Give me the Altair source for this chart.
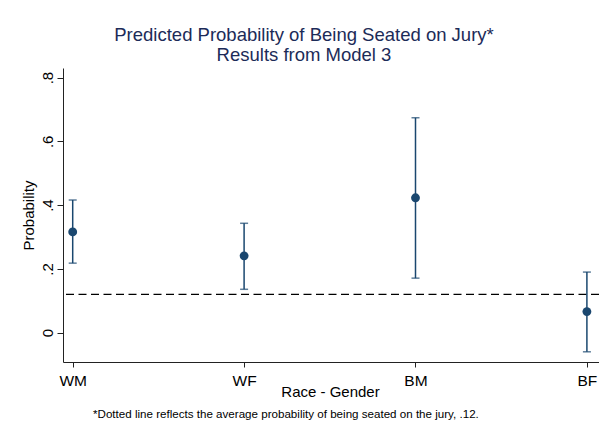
import altair as alt
import pandas as pd

groups = ["WM", "WF", "BM", "BF"]
group_pos = [1, 2, 3, 4]
estimate = [0.316, 0.241, 0.423, 0.066]
ci_low = [0.218, 0.136, 0.171, -0.060]
ci_high = [0.416, 0.343, 0.674, 0.190]
avg_prob = 0.12
y_ticks = [0, 0.2, 0.4, 0.6, 0.8]

df = pd.DataFrame({"group": groups, "pos": group_pos, "est": estimate,
                   "lo": ci_low, "hi": ci_high})
ref = pd.DataFrame({"avg": [avg_prob]})

NAVY = "#1a476f"
FONT = "Liberation Sans"

x_scale = alt.Scale(domain=[0.9434, 4.0706], nice=False, zero=False)
y_scale = alt.Scale(domain=[-0.092, 0.830], nice=False, zero=False)

label_expr = "datum.value == 1 ? 'WM' : datum.value == 2 ? 'WF' : datum.value == 3 ? 'BM' : 'BF'"
y_label_expr = "datum.value == 0 ? '0' : replace(format(datum.value, '.1f'), '0.', '.')"

x_axis = alt.Axis(values=group_pos, labelExpr=label_expr, title="Race - Gender",
                  grid=False, tickSize=5, labelPadding=6, labelFontSize=15.5,
                  labelFont=FONT, labelColor="black", titleFont=FONT, titleFontSize=15,
                  titleFontWeight="normal", titleColor="black", titleX=267, titleY=34,
                  titleBaseline="alphabetic", titleAnchor="middle",
                  domainColor="#222222", tickColor="#222222", labelBaseline="top")
y_axis = alt.Axis(values=y_ticks, labelExpr=y_label_expr, title="Probability",
                  grid=False, tickSize=6, labelPadding=5, labelFontSize=15,
                  labelFont=FONT, labelColor="black", labelAngle=270,
                  labelAlign="center", labelBaseline="alphabetic",
                  titleFont=FONT, titleFontSize=15, titleFontWeight="normal",
                  titleColor="black", titleAngle=270, titleX=-30, titleY=147,
                  titleAlign="center", titleBaseline="alphabetic",
                  domainColor="#222222", tickColor="#222222")

base = alt.Chart(df)

refline = alt.Chart(ref).mark_rule(color="black", strokeWidth=1.3, strokeDash=[8, 4.5]).encode(
    y=alt.Y("avg:Q", scale=y_scale, axis=y_axis)
)

bars = base.mark_rule(color=NAVY, strokeWidth=1.5).encode(
    x=alt.X("pos:Q", scale=x_scale, axis=x_axis),
    y=alt.Y("lo:Q", scale=y_scale),
    y2="hi:Q",
)
cap_lo = base.mark_tick(color=NAVY, orient="horizontal", size=8, thickness=1.5).encode(
    x=alt.X("pos:Q", scale=x_scale), y=alt.Y("lo:Q", scale=y_scale))
cap_hi = base.mark_tick(color=NAVY, orient="horizontal", size=8, thickness=1.5).encode(
    x=alt.X("pos:Q", scale=x_scale), y=alt.Y("hi:Q", scale=y_scale))
points = base.mark_circle(color=NAVY, size=78, opacity=1).encode(
    x=alt.X("pos:Q", scale=x_scale), y=alt.Y("est:Q", scale=y_scale))

footnote = alt.Chart(ref).mark_text(
    text="*Dotted line reflects the average probability of being seated on the jury, .12.",
    font=FONT, fontSize=11.6, align="left", baseline="alphabetic", color="black"
).encode(x=alt.value(30), y=alt.value(350))

chart = alt.layer(refline, bars, cap_lo, cap_hi, points, footnote).properties(
    width=536, height=294,
    title=alt.TitleParams(
        text=["Predicted Probability of Being Seated on Jury*", "Results from Model 3"],
        font=FONT, fontSize=18.5, fontWeight="normal", color="#1c2b58",
        anchor="middle", dx=-27, offset=4, lineHeight=19.5,
    ),
    autosize=alt.AutoSizeParams(type="none"),
    padding={"left": 63, "top": 68, "right": 0, "bottom": 65},
    background="white",
).configure_view(stroke=None)

chart.save("out.html", embed_options={"renderer": "svg", "actions": False})
